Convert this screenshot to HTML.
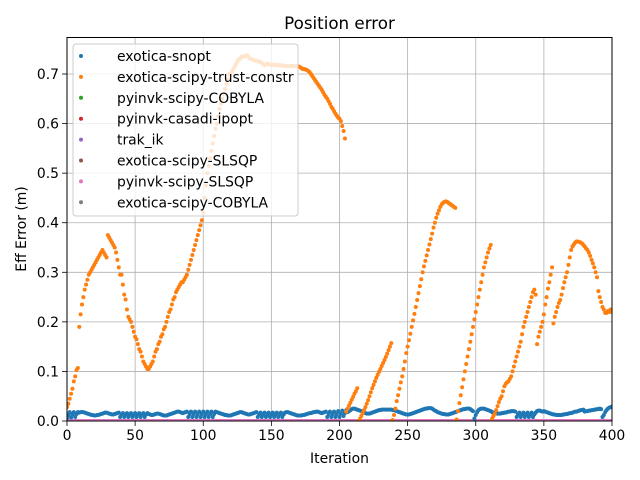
<!DOCTYPE html>
<html><head><meta charset="utf-8"><style>
html,body{margin:0;padding:0;background:#fff;}
svg{display:block;font-family:"DejaVu Sans","Liberation Sans",sans-serif;}
</style></head><body>
<svg id="chart" width="640" height="480" viewBox="0 0 640 480">
<defs><clipPath id="plotclip"><rect x="67" y="37.5" width="545" height="383.5"/></clipPath></defs>
<rect width="640" height="480" fill="#fff"/>
<text x="339.5" y="29" font-size="16.7" text-anchor="middle" fill="#000">Position error</text>
<g id="grid"></g>
<g id="series" clip-path="url(#plotclip)"></g>
<rect x="67" y="37.5" width="545" height="383.5" fill="none" stroke="#000" stroke-width="1"/>
<g id="xticks"></g>
<g id="yticks"></g>
<text x="339.5" y="463" font-size="13.9" text-anchor="middle">Iteration</text>
<text x="26" y="229" font-size="13.9" text-anchor="middle" transform="rotate(-90 26 229)">Eff Error (m)</text>
<g id="legend"></g>
</svg>
<script>
const xTicks=[0,50,100,150,200,250,300,350,400];
const yTicks=[0,0.1,0.2,0.3,0.4,0.5,0.6,0.7];
const yTickLabels=["0.0","0.1","0.2","0.3","0.4","0.5","0.6","0.7"];
const seriesNames=["exotica-snopt","exotica-scipy-trust-constr","pyinvk-scipy-COBYLA","pyinvk-casadi-ipopt","trak_ik","exotica-scipy-SLSQP","pyinvk-scipy-SLSQP","exotica-scipy-COBYLA"];
const seriesColors=["#1f77b4","#ff7f0e","#2ca02c","#d62728","#9467bd","#8c564b","#e377c2","#7f7f7f"];
const snoptErr=[.006,.012,.018,.007,.013,.018,.008,.014,.018,.017,
.018,.018,.018,.017,.016,.015,.014,.013,.012,.012,
.011,.011,.012,.012,.013,.014,.015,.016,.017,.017,
.016,.015,.014,.013,.013,.014,.015,.016,.017,.008,
.013,.016,.008,.013,.016,.008,.013,.016,.008,.013,
.016,.008,.013,.016,.008,.013,.016,.008,.013,.016,
.014,.013,.012,.012,.013,.014,.015,.015,.014,.013,
.012,.011,.011,.011,.012,.013,.014,.015,.016,.017,
.018,.019,.019,.018,.017,.016,.017,.018,.019,.008,
.014,.019,.008,.014,.019,.008,.014,.019,.008,.014,
.019,.008,.014,.019,.008,.014,.019,.008,.014,.019,
.018,.017,.016,.015,.014,.013,.012,.012,.011,.011,
.011,.012,.013,.014,.015,.016,.017,.018,.018,.017,
.016,.015,.014,.013,.013,.014,.015,.016,.017,.018,
.008,.013,.017,.008,.013,.017,.008,.013,.017,.008,
.013,.017,.008,.013,.017,.008,.013,.017,.008,.013,
.017,.018,.018,.017,.016,.015,.014,.013,.012,.011,
.011,.011,.011,.012,.012,.013,.014,.015,.016,.016,
.017,.018,.018,.019,.019,.018,.017,.016,.017,.018,
.019,.008,.014,.019,.008,.014,.019,.008,.014,.02,
.008,.015,.021,.01,.016,.022,.018,.02,.022,.024,
.025,.025,.024,.023,.022,.021,.02,.018,.017,.016,
.015,.015,.015,.016,.017,.018,.019,.02,.021,.022,
.022,.023,.023,.023,.023,.023,.023,.023,.023,.022,
.022,.021,.02,.019,.018,.017,.016,.015,.014,.013,
.013,.013,.014,.015,.016,.017,.018,.019,.02,.021,
.022,.023,.024,.025,.025,.026,.026,.026,.025,.023,
.021,.02,.018,.017,.016,.015,.014,.014,.013,.013,
.013,.014,.015,.016,.017,.018,.019,.02,.021,.022,
.023,.024,.024,.025,.025,.025,.024,.022,.02,.005,
.012,.018,.022,.024,.025,.025,.025,.024,.023,.022,
.021,.02,.018,.017,.016,.015,.015,.015,.015,.016,
.016,.017,.017,.018,.019,.019,.02,.02,.02,.019,
.008,.013,.017,.008,.013,.017,.008,.013,.017,.008,
.013,.017,.008,.013,.017,.02,.021,.021,.02,.019,
.02,.019,.018,.017,.016,.015,.014,.013,.013,.012,
.012,.012,.012,.012,.013,.013,.014,.014,.015,.016,
.016,.017,.018,.019,.019,.02,.021,.022,.022,.023,
.019,.02,.02,.021,.021,.022,.022,.023,.023,.024,
.024,.025,.024,.008,.012,.018,.022,.025,.027,.028,.029];
const trustErr=[0.028,0.035,0.045,0.055,0.065,0.08,0.09,0.103,0.107,0.19,
0.215,0.235,0.25,0.265,0.275,0.285,0.295,0.30,0.305,0.31,
0.315,0.32,0.325,0.33,0.335,0.34,0.345,0.34,0.335,0.33,
0.375,0.37,0.365,0.36,0.355,0.35,0.34,0.325,0.31,0.295,
0.295,0.275,0.255,0.245,0.225,0.21,0.205,0.2,0.19,0.18,
0.17,0.165,0.155,0.145,0.14,0.13,0.12,0.115,0.11,0.105,
0.105,0.11,0.115,0.12,0.13,0.14,0.145,0.155,0.16,0.17,
0.175,0.185,0.19,0.20,0.21,0.22,0.225,0.235,0.245,0.25,
0.26,0.265,0.27,0.275,0.28,0.28,0.285,0.29,0.295,0.305,
0.315,0.325,0.335,0.345,0.355,0.365,0.375,0.385,0.395,0.405,
0.42,0.45,0.475,0.50,0.515,0.53,0.545,0.56,0.575,0.59,
0.60,0.615,0.63,0.64,0.65,0.66,0.67,0.68,0.69,0.70,
0.70,0.705,0.71,0.715,0.72,0.725,0.73,0.73,0.735,0.735,
0.735,0.737,0.738,0.735,0.732,0.73,0.73,0.728,0.727,0.727,
0.726,0.725,0.724,0.722,0.72,0.718,0.72,0.721,0.72,0.719,
0.718,0.719,0.718,0.718,0.719,0.718,0.717,0.718,0.717,0.717,
0.716,0.716,0.716,0.716,0.716,0.716,0.716,0.716,0.716,0.716,
0.715,0.714,0.712,0.71,0.71,0.709,0.708,0.706,0.704,0.70,
0.696,0.692,0.688,0.684,0.68,0.676,0.672,0.668,0.663,0.658,
0.654,0.65,0.645,0.64,0.634,0.63,0.625,0.62,0.616,0.612,
0.61,0.605,0.595,0.585,0.57,
0.019,0.025,0.031,0.037,0.043,0.049,0.055,0.06,0.066,
0.0,0.004,0.01,0.016,0.022,0.028,0.035,0.042,0.05,0.058,0.066,0.073,0.08,0.087,0.093,0.099,0.105,0.111,0.117,0.123,0.129,0.136,0.143,0.15,0.157,
0.002,0.012,0.025,0.04,0.052,0.065,0.078,0.09,0.105,0.12,0.137,0.15,0.163,0.176,0.19,0.203,0.216,0.23,0.244,0.258,0.272,0.286,0.3,0.312,0.323,0.334,0.345,0.356,0.367,0.378,0.39,0.4,0.41,0.418,0.425,0.432,0.437,0.44,0.442,0.443,0.442,0.44,0.438,0.436,0.434,0.432,0.43,
0.003,0.02,0.036,0.052,0.068,0.084,0.1,0.115,0.13,0.145,0.16,0.175,0.19,0.205,0.22,0.235,0.25,0.265,0.28,0.295,0.31,0.32,0.33,0.34,0.348,0.355,
0.005,0.01,0.015,0.022,0.03,0.038,0.045,0.05,0.06,0.07,0.075,0.078,0.08,0.085,0.09,0.1,0.11,0.12,0.13,0.14,0.15,0.16,0.175,0.19,0.2,0.21,0.22,0.23,0.24,0.25,0.26,0.265,0.255,
0.155,0.17,0.18,0.19,0.2,0.215,0.235,0.25,0.267,0.28,0.295,0.31,
0.197,0.21,0.22,0.23,0.238,0.244,0.255,0.268,0.28,0.29,0.3,0.315,0.33,0.345,0.352,0.356,0.36,0.362,0.362,0.361,0.36,0.358,0.355,0.352,0.348,0.345,0.34,0.333,0.325,0.318,0.31,0.3,0.29,0.262,0.25,0.24,0.23,0.225,0.218,0.218,0.222,0.22,0.225,0.22];
const zeroErr=new Array(401).fill(0);

const NS="http://www.w3.org/2000/svg";
const X0=67,X1=612,Y0=421,Y1=37.5,XMAX=400,YMAX=(421-37.5)/495.7;
function xs(v){return X0+v/XMAX*(X1-X0);}
function ys(v){return Y0-v/YMAX*(Y0-Y1);}
function mk(tag,attrs,parent){const e=document.createElementNS(NS,tag);for(const k in attrs)e.setAttribute(k,attrs[k]);parent.appendChild(e);return e;}

const grid=document.getElementById('grid'),xg=document.getElementById('xticks'),yg=document.getElementById('yticks');
xTicks.forEach(t=>{
  const x=xs(t);
  const gl=mk('line',{x1:x,x2:x,y1:Y1,y2:Y0,stroke:'#b0b0b0','stroke-width':0.8},grid);
  
  
  const tk=mk('line',{x1:x,x2:x,y1:Y0,y2:Y0+5,stroke:'#000','stroke-width':0.8},xg);
  
  
  const tl=mk('text',{x:x,y:Y0+19,'font-size':13.9,'text-anchor':'middle'},xg);
  tl.textContent=String(t);
  
  
});
yTicks.forEach((t,i)=>{
  const y=ys(t);
  const gl=mk('line',{x1:X0,x2:X1,y1:y,y2:y,stroke:'#b0b0b0','stroke-width':0.8},grid);
  
  
  const tk=mk('line',{x1:X0-5,x2:X0,y1:y,y2:y,stroke:'#000','stroke-width':0.8},yg);
  
  
  const tl=mk('text',{x:X0-8,y:y+5,'font-size':13.9,'text-anchor':'end'},yg);
  tl.textContent=yTickLabels[i];
  
  
});

const sg=document.getElementById('series');
function drawSeries(vals,color,name){
  const g=mk('g',{fill:color},sg);
  
  
  vals.forEach((v,i)=>{
    const c=mk('circle',{cx:xs(i),cy:ys(v),r:2},g);
    
    
  });
}
drawSeries(zeroErr,seriesColors[7],'exotica-scipy-cobyla');
drawSeries(zeroErr,seriesColors[2],'pyinvk-scipy-cobyla');
drawSeries(zeroErr,seriesColors[3],'pyinvk-casadi-ipopt');
drawSeries(zeroErr,seriesColors[5],'exotica-scipy-slsqp');
drawSeries(zeroErr,seriesColors[4],'trak-ik');
drawSeries(zeroErr,seriesColors[6],'pyinvk-scipy-slsqp');
drawSeries(snoptErr,seriesColors[0],'exotica-snopt');
drawSeries(trustErr,seriesColors[1],'exotica-scipy-trust-constr');

const lg=document.getElementById('legend');
const box=mk('rect',{x:73,y:44,width:225,height:172,rx:3,fill:'#fff','fill-opacity':0.8,stroke:'#cccccc','stroke-width':1},lg);


seriesNames.forEach((n,i)=>{
  const y=56+i*20.9;
  const g=mk('g',{},lg);
  
  
  mk('circle',{cx:81,cy:y,r:2,fill:seriesColors[i]},g);
  const t=mk('text',{x:117,y:y+5,'font-size':13.9},g);
  t.textContent=n;
});
</script>
</body></html>
